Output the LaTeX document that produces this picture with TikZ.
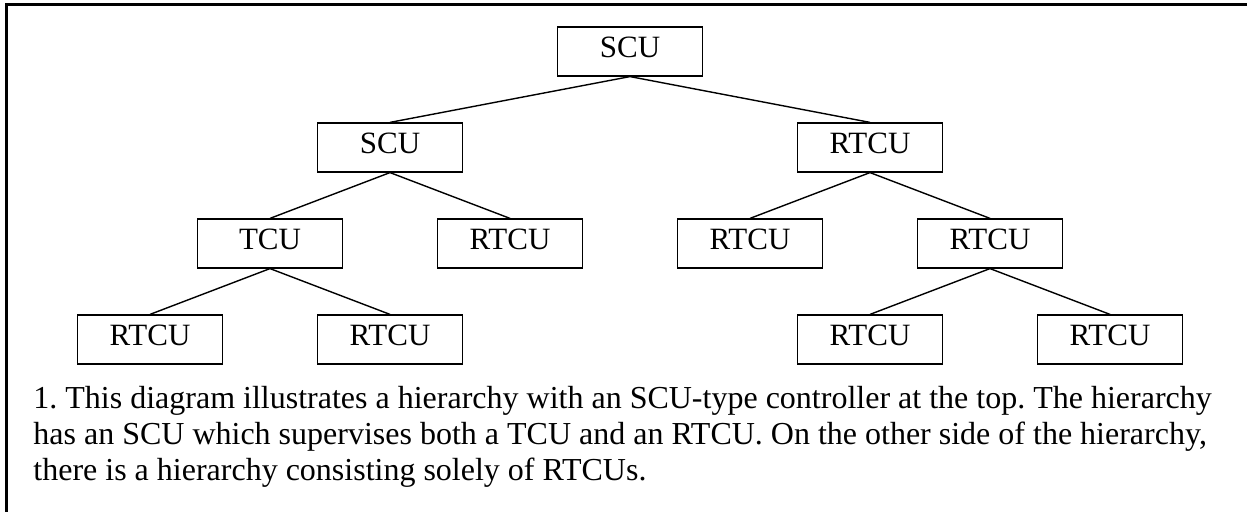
\documentclass[tikz,border=0pt]{standalone}
\usepackage{fontspec}
\setmainfont{Liberation Serif}
\usetikzlibrary{positioning}

\begin{document}
\frenchspacing
\begin{tikzpicture}[
            unit/.style = {draw, line width=0.6pt, minimum width=72.5pt,
                           minimum height=24.5pt, inner sep=0pt, text depth=4pt,
                           font=\fontsize{15.5}{18}\selectfont}, % controller box
            link/.style = {line width=0.7pt}, % tree line
            on grid, % place centre to centre
            node distance = 48pt and 120pt % level distance
        ]

	\useasboundingbox (0,0) rectangle (623.5pt,256pt);
	\draw[line width=1.5pt] (3pt,0pt) -- (3pt,253.5pt) -- (623.5pt,253.5pt);

	\node[unit] (top) at (315pt,230.25pt) {SCU};
	\node[unit] (scu) [below left=of top] {SCU};
	\node[unit] (rtcu) [below right=of top] {RTCU};
	\node[unit] (tcu) [below left=48pt and 60pt of scu] {TCU};
	\node[unit] (rtcuA) [below right=48pt and 60pt of scu] {RTCU};
	\node[unit] (rtcuB) [below left=48pt and 60pt of rtcu] {RTCU};
	\node[unit] (rtcuC) [below right=48pt and 60pt of rtcu] {RTCU};
	\node[unit] (rtcuD) [below left=48pt and 60pt of tcu] {RTCU};
	\node[unit] (rtcuE) [below right=48pt and 60pt of tcu] {RTCU};
	\node[unit] (rtcuF) [below left=48pt and 60pt of rtcuC] {RTCU};
	\node[unit] (rtcuG) [below right=48pt and 60pt of rtcuC] {RTCU};

	\draw[link] (top.south) -- (scu.north);
	\draw[link] (top.south) -- (rtcu.north);
	\draw[link] (scu.south) -- (tcu.north);
	\draw[link] (scu.south) -- (rtcuA.north);
	\draw[link] (rtcu.south) -- (rtcuB.north);
	\draw[link] (rtcu.south) -- (rtcuC.north);
	\draw[link] (tcu.south) -- (rtcuD.north);
	\draw[link] (tcu.south) -- (rtcuE.north);
	\draw[link] (rtcuC.south) -- (rtcuF.north);
	\draw[link] (rtcuC.south) -- (rtcuG.north);

	\node[anchor=north west, inner sep=0pt, align=left,
	      font=\fontsize{16}{18}\selectfont] (note) at (16.5pt,63.1pt)
	      {1. This diagram illustrates a hierarchy with an SCU-type controller at the top. The hierarchy\\
	       has an SCU which supervises both a TCU and an RTCU. On the other side of the hierarchy,\\
	       there is a hierarchy consisting solely of RTCUs.};

\end{tikzpicture}
\end{document}
